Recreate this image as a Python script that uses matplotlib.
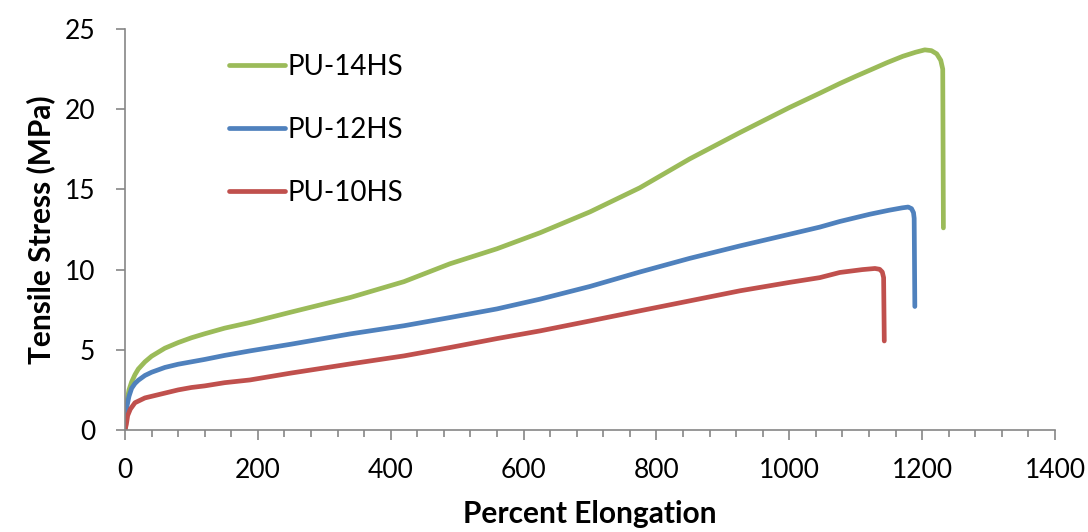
import matplotlib.pyplot as plt
from matplotlib.ticker import MultipleLocator

pu14_x = [0, 1, 3, 6, 10, 15, 20, 30, 40, 60, 80, 100, 120, 150, 188, 250, 339, 420, 489, 560, 625, 700,
          775, 850, 926, 1000, 1046, 1076, 1100, 1125, 1147, 1171, 1190, 1204, 1214, 1222, 1228, 1231, 1232]
pu14_y = [0, 1.0, 1.8, 2.5, 3.0, 3.45, 3.8, 4.25, 4.6, 5.1, 5.45, 5.75, 6.0, 6.35, 6.7, 7.35, 8.26, 9.25, 10.36, 11.3, 12.3, 13.6,
          15.1, 16.9, 18.55, 20.1, 21.0, 21.6, 22.05, 22.5, 22.9, 23.3, 23.55, 23.7, 23.65, 23.45, 23.05, 22.5, 12.6]

pu12_x = [0, 1, 3, 6, 10, 15, 20, 30, 40, 60, 80, 100, 120, 150, 188, 250, 339, 420, 489, 560, 625, 700,
          775, 850, 926, 1000, 1046, 1076, 1121, 1150, 1170, 1179, 1184, 1187, 1188, 1189]
pu12_y = [0, 0.8, 1.5, 2.1, 2.6, 2.9, 3.1, 3.4, 3.6, 3.9, 4.1, 4.25, 4.4, 4.65, 4.93, 5.35, 5.99, 6.5, 7.01, 7.55, 8.16, 8.95,
          9.85, 10.7, 11.48, 12.2, 12.65, 13.0, 13.45, 13.7, 13.85, 13.9, 13.8, 13.55, 13.2, 7.7]

pu10_x = [0, 2, 4, 8, 15, 30, 40, 60, 80, 100, 120, 150, 188, 250, 339, 420, 489, 560, 625, 700,
          775, 850, 926, 1000, 1046, 1076, 1110, 1129, 1136, 1140, 1142, 1143]
pu10_y = [0, 0.35, 0.9, 1.3, 1.7, 2.0, 2.1, 2.3, 2.5, 2.65, 2.75, 2.95, 3.12, 3.55, 4.12, 4.62, 5.14, 5.7, 6.18, 6.8,
          7.43, 8.05, 8.68, 9.2, 9.5, 9.82, 10.0, 10.07, 10.02, 9.85, 9.5, 5.55]

series = [
    ('PU-14HS', pu14_x, pu14_y, '#9BBB59'),
    ('PU-12HS', pu12_x, pu12_y, '#4F81BD'),
    ('PU-10HS', pu10_x, pu10_y, '#C0504D'),
]

plt.rcParams['font.family'] = ['Lato', 'DejaVu Sans']

fig = plt.figure(figsize=(10.88, 5.32), dpi=100)
ax = fig.add_axes([125 / 1088, 1 - 430 / 532, 930 / 1088, 401 / 532])

for name, xs, ys, col in series:
    ax.plot(xs, ys, color=col, lw=3.4, label=name,
            solid_capstyle='round', solid_joinstyle='round')

ax.set_xlim(0, 1400)
ax.set_ylim(0, 25)
ax.xaxis.set_major_locator(MultipleLocator(200))
ax.xaxis.set_minor_locator(MultipleLocator(40))
ax.yaxis.set_major_locator(MultipleLocator(5))

axis_grey = '#868686'
for side in ['top', 'right']:
    ax.spines[side].set_visible(False)
for side in ['left', 'bottom']:
    ax.spines[side].set_color(axis_grey)
    ax.spines[side].set_linewidth(1.2)

ax.tick_params(axis='x', which='major', direction='out', length=7.5, width=1.2,
               color=axis_grey, labelsize=19, pad=13)
ax.tick_params(axis='x', which='minor', direction='out', length=4.8, width=1.2, color=axis_grey)
ax.tick_params(axis='y', which='major', direction='out', length=6.5, width=1.2,
               color=axis_grey, labelsize=19, pad=15)

ax.set_xlabel('Percent Elongation', fontsize=21.5, fontweight='bold', labelpad=12)
ax.set_ylabel('Tensile Stress (MPa)', fontsize=21.5, fontweight='bold', labelpad=7)

ax.legend(loc='upper left', bbox_to_anchor=(0.085, 1.0), frameon=False, fontsize=20,
          handlelength=2.0, handletextpad=0.12, labelspacing=1.33)

fig.savefig('out.png', dpi=100)
